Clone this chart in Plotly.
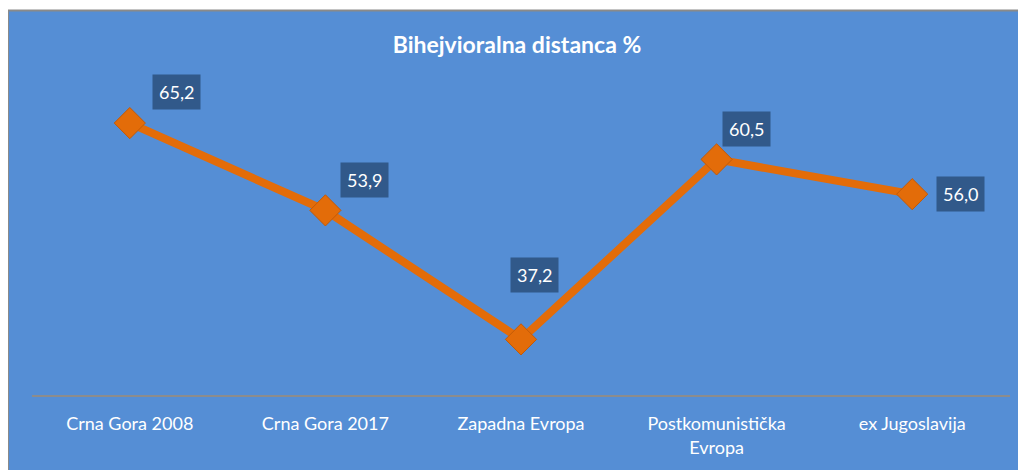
import plotly.graph_objects as go

# ── Data ──────────────────────────────────────────────────────
categories = ["Crna Gora 2008", "Crna Gora 2017", "Zapadna Evropa",
              "Postkomunistička<br>Evropa", "ex Jugoslavija"]
values = [65.2, 53.9, 37.2, 60.5, 56.0]
label_text = ["65,2", "53,9", "37,2", "60,5", "56,0"]
# label offsets (px) relative to each point
label_dx = [47, 39, 13, 30, 48]
label_dy = [31, 30, 64, 30, 0]

BG = "#558ED5"
ORANGE = "#E36C09"
BOX = "#31598A"
FONT = "Lato, 'Open Sans', sans-serif"

# page has an 8px body margin, so the figure is 8px smaller than the window
W, H = 1018, 462
ML, MR, MT, MB = 24, 16, 78, 73
pw, ph = W - ML - MR, H - MT - MB

fig = go.Figure()
fig.add_trace(go.Scatter(
    x=categories, y=values, mode="lines+markers",
    line=dict(color=ORANGE, width=8),
    marker=dict(symbol="diamond", size=24, color=ORANGE,
                line=dict(color="#C25A08", width=1)),
    hoverinfo="x+y", showlegend=False))

for c, v, t, dx, dy in zip(categories, values, label_text, label_dx, label_dy):
    fig.add_annotation(x=c, y=v, text=t, showarrow=False,
                       xshift=dx, yshift=dy,
                       font=dict(family=FONT, size=18, color="white"),
                       bgcolor=BOX, borderpad=6)

# blue chart frame with grey border
fig.add_shape(type="rect", xref="paper", yref="paper", layer="below",
              x0=(0 - ML) / pw, x1=(W + 4 - ML) / pw,
              y0=(H - MB - H - 4) / ph, y1=(H - MB - 2) / ph,
              fillcolor=BG, line=dict(color="#8A8A8A", width=2))

fig.update_layout(
    width=W, height=H,
    paper_bgcolor="white", plot_bgcolor=BG,
    margin=dict(l=ML, r=MR, t=MT, b=MB),
    title=dict(text="<b>Bihejvioralna distanca %</b>", x=0.5, xanchor="center",
               y=1 - 37 / H, yanchor="middle",
               font=dict(family=FONT, size=23, color="white")),
    font=dict(family=FONT, color="white"),
    xaxis=dict(range=[-0.5, 4.5], showgrid=False, showline=True,
               linecolor="#8C8C8C", linewidth=1.5, ticks="",
               ticklabelstandoff=12,
               tickfont=dict(size=18, color="white"), fixedrange=True),
    yaxis=dict(range=[30, 70], showgrid=False, showticklabels=False,
               zeroline=False, showline=False, fixedrange=True),
)

fig.write_html("out.html")
